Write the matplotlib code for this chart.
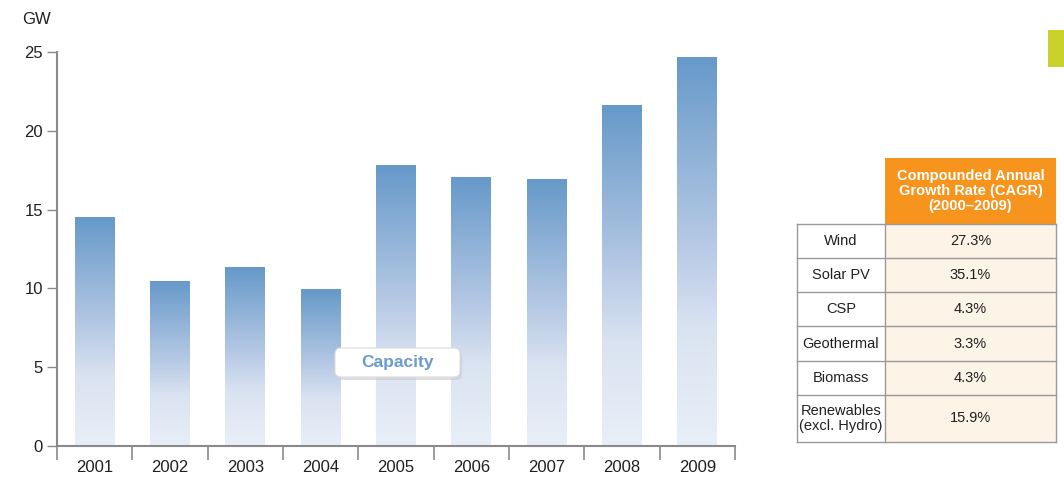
import matplotlib.pyplot as plt
from matplotlib.patches import Rectangle, FancyBboxPatch
from matplotlib.colors import LinearSegmentedColormap
import numpy as np

years = ['2001', '2002', '2003', '2004', '2005', '2006', '2007', '2008', '2009']
capacity_gw = [14.5, 10.5, 11.35, 9.95, 17.8, 17.05, 16.95, 21.65, 24.7]

cagr_labels = ['Wind', 'Solar PV', 'CSP', 'Geothermal', 'Biomass', 'Renewables\n(excl. Hydro)']
cagr_values = ['27.3%', '35.1%', '4.3%', '3.3%', '4.3%', '15.9%']
cagr_header = 'Compounded Annual\nGrowth Rate (CAGR)\n(2000\u20132009)'

FONT = ['Liberation Sans Narrow', 'Liberation Sans', 'DejaVu Sans']
plt.rcParams['font.family'] = FONT

W, H = 1064, 492
fig = plt.figure(figsize=(W / 100, H / 100), dpi=100)

# bar chart axes
ax = fig.add_axes([57 / W, 1 - 446 / H, (735 - 57) / W, (446 - 52) / H])
x = np.arange(len(years))
bars = ax.bar(x, capacity_gw, width=0.53, color='none', zorder=2)

# vertical gradient, dark at the top of each bar
grad = np.linspace(0, 1, 256).reshape(-1, 1)
cmap = LinearSegmentedColormap.from_list(
    'bar', [(0, '#e8eff8'), (0.3, '#dae3f1'), (0.5, '#b9cbe6'), (1, '#6699c9')])
for b in bars:
    x0, y0 = b.get_x(), b.get_y()
    w, h = b.get_width(), b.get_height()
    im = ax.imshow(grad, cmap=cmap, origin='lower', aspect='auto',
                   extent=[x0, x0 + w, y0, y0 + h], zorder=1)
    im.set_clip_path(b)

ax.set_xlim(-0.5, len(years) - 0.5)
ax.set_ylim(0, 25)

for s in ['top', 'right']:
    ax.spines[s].set_visible(False)
for s in ['left', 'bottom']:
    ax.spines[s].set_color('#8a8a8a')
    ax.spines[s].set_linewidth(1.5)

ax.set_yticks([0, 5, 10, 15, 20, 25])
ax.tick_params(axis='y', length=7, width=1, color='#8a8a8a', labelsize=12, pad=3)
ax.set_xticks(np.arange(-0.5, len(years), 1))
ax.set_xticklabels([])
ax.tick_params(axis='x', length=10, width=1.2, color='#8a8a8a', direction='out')
ax.set_xticks(x, minor=True)
ax.set_xticklabels(years, minor=True)
ax.tick_params(axis='x', which='minor', length=0, labelsize=12, pad=10)
for lab in ax.get_yticklabels() + ax.get_xticklabels(minor=True):
    lab.set_color('#231f20')

fig.text(22 / W, 1 - 20 / H, 'GW', fontsize=12, color='#231f20', va='center', ha='left')

# overlay in pixel coordinates
ov = fig.add_axes([0, 0, 1, 1], zorder=5)
ov.set_xlim(0, W)
ov.set_ylim(H, 0)
ov.axis('off')

# legend box "Capacity"
ov.add_patch(FancyBboxPatch((338, 351), 124, 29, boxstyle='round,pad=0,rounding_size=6',
                            fc='#c8c8c8', ec='none', alpha=0.6))
ov.add_patch(FancyBboxPatch((335, 348), 125, 29, boxstyle='round,pad=0,rounding_size=6',
                            fc='white', ec='#dcdcdc', lw=0.8))
ov.text(397, 363, 'Capacity', color='#6a9bcc', fontsize=12.5, fontweight='bold',
        ha='center', va='center')

# CAGR table
c0, c1, c2 = 797, 885, 1056
ov.add_patch(Rectangle((c1, 158), c2 - c1, 224 - 158, fc='#f7941d', ec='none'))
ov.text((c1 + c2) / 2, 191, cagr_header, color='white', fontsize=10.5, fontweight='bold',
        ha='center', va='center', linespacing=1.1)
row_edges = [224, 258, 292, 326, 361, 395, 442]
ov.add_patch(Rectangle((c1, 224), c2 - c1, 442 - 224, fc='#fdf3e6', ec='none'))
for i, (lab, val) in enumerate(zip(cagr_labels, cagr_values)):
    ya, yb = row_edges[i], row_edges[i + 1]
    yc = (ya + yb) / 2
    ov.text((c0 + c1) / 2, yc, lab, fontsize=10.5, color='#231f20', ha='center', va='center',
            linespacing=1.15)
    ov.text((c1 + c2) / 2, yc, val, fontsize=10.5, color='#231f20', ha='center', va='center')
lc = '#9a9a9a'
for ye in row_edges:
    ov.plot([c0, c2], [ye, ye], color=lc, lw=1)
for xe in [c0, c1, c2]:
    ov.plot([xe, xe], [224, 442], color=lc, lw=1)

# green tab
ov.add_patch(Rectangle((1048, 30), 16, 37, fc='#c9d22b', ec='none'))

fig.savefig('out.png', dpi=100)
